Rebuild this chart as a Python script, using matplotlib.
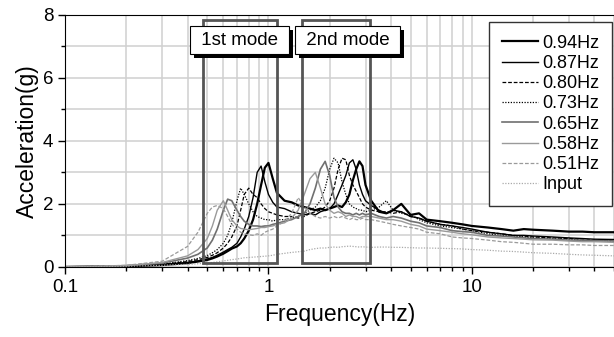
import matplotlib
matplotlib.use("Agg")
import matplotlib.pyplot as plt
from matplotlib.patches import Rectangle
from matplotlib import patheffects
from matplotlib.ticker import NullFormatter, FixedLocator, LogLocator

plt.rcParams['font.family'] = ['Liberation Sans', 'DejaVu Sans']

# frequency grid (Hz)
freq = [0.1, 0.2, 0.3, 0.4, 0.45, 0.5, 0.53, 0.56, 0.6, 0.63, 0.66, 0.7, 0.73, 0.76,
        0.8, 0.84, 0.88, 0.92, 0.96, 1.0, 1.05, 1.1, 1.2, 1.3, 1.4, 1.5, 1.6, 1.7,
        1.8, 1.9, 2.0, 2.1, 2.2, 2.3, 2.4, 2.5, 2.6, 2.7, 2.8, 2.9, 3.0, 3.2, 3.5,
        3.8, 4.1, 4.5, 5.0, 5.5, 6, 7, 8, 9, 10, 12, 14, 16, 18, 20, 25, 30, 35, 40, 50]

# acceleration (g) for each case
acc_094 = [0, 0.02, 0.06, 0.12, 0.17, 0.22, 0.27, 0.33, 0.42, 0.5, 0.58, 0.65, 0.75, 0.9,
           1.15, 1.5, 2.0, 2.6, 3.15, 3.3, 2.8, 2.35, 2.1, 2.05, 1.95, 1.9, 1.85, 1.8,
           1.85, 1.8, 1.85, 1.9, 1.95, 1.9, 2.05, 2.3, 2.75, 3.1, 3.35, 3.2, 2.6, 2.1, 1.75,
           1.7, 1.8, 2.0, 1.65, 1.7, 1.5, 1.45, 1.4, 1.35, 1.3, 1.25, 1.2, 1.15, 1.2, 1.18,
           1.15, 1.12, 1.12, 1.1, 1.1]
acc_087 = [0, 0.02, 0.07, 0.14, 0.19, 0.25, 0.3, 0.37, 0.47, 0.55, 0.62, 0.75, 0.95, 1.2,
           1.6, 2.2, 3.0, 3.2, 2.7, 2.3, 2.05, 1.9, 1.85, 1.75, 1.7, 1.65, 1.7, 1.65,
           1.75, 1.8, 1.85, 2.0, 2.3, 2.6, 2.9, 3.3, 3.4, 3.1, 2.6, 2.3, 2.1, 1.95, 1.8,
           1.7, 1.8, 1.75, 1.6, 1.55, 1.45, 1.35, 1.3, 1.25, 1.2, 1.1, 1.05, 1.0, 1.0, 0.98,
           0.95, 0.92, 0.9, 0.88, 0.87]
acc_080 = [0, 0.03, 0.08, 0.17, 0.23, 0.3, 0.37, 0.45, 0.6, 0.75, 0.95, 1.3, 1.8, 2.3,
           2.5, 2.3, 2.2, 2.0, 1.85, 1.75, 1.7, 1.65, 1.6, 1.6, 1.55, 1.6, 1.7, 1.75,
           1.8, 1.9, 2.1, 2.5, 3.1, 3.45, 3.4, 2.9, 2.6, 2.4, 2.2, 2.0, 1.9, 1.8, 1.75,
           1.75, 1.7, 1.75, 1.6, 1.55, 1.45, 1.35, 1.3, 1.2, 1.15, 1.1, 1.05, 1.0, 0.98, 0.95,
           0.92, 0.9, 0.88, 0.85, 0.85]
acc_073 = [0, 0.03, 0.09, 0.2, 0.27, 0.36, 0.45, 0.55, 0.75, 1.0, 1.4, 2.1, 2.5, 2.3,
           2.0, 1.75, 1.6, 1.55, 1.5, 1.5, 1.45, 1.5, 1.5, 1.55, 1.6, 1.7, 1.8, 1.9,
           2.1, 2.5, 3.1, 3.45, 3.3, 2.7, 2.3, 2.0, 1.9, 1.85, 1.8, 1.8, 1.75, 1.8, 1.9,
           2.1, 1.8, 1.7, 1.65, 1.5, 1.4, 1.3, 1.25, 1.2, 1.15, 1.05, 1.0, 0.98, 0.95, 0.92,
           0.9, 0.88, 0.85, 0.85, 0.82]
acc_065 = [0, 0.04, 0.12, 0.28, 0.4, 0.6, 0.85, 1.2, 1.8, 2.15, 2.1, 1.8, 1.6, 1.45,
           1.35, 1.3, 1.3, 1.28, 1.3, 1.3, 1.35, 1.38, 1.45, 1.5, 1.6, 1.7, 2.0, 2.5,
           3.1, 3.35, 2.9, 2.2, 1.9, 1.75, 1.7, 1.7, 1.65, 1.7, 1.65, 1.7, 1.65, 1.7, 1.6,
           1.55, 1.6, 1.55, 1.45, 1.4, 1.3, 1.25, 1.15, 1.12, 1.1, 1.0, 0.98, 0.95, 0.92, 0.9,
           0.88, 0.85, 0.85, 0.83, 0.82]
acc_058 = [0, 0.04, 0.14, 0.35, 0.55, 0.9, 1.3, 1.8, 2.1, 1.8, 1.5, 1.3, 1.22, 1.2,
           1.18, 1.2, 1.22, 1.25, 1.25, 1.28, 1.3, 1.35, 1.4, 1.55, 1.8, 2.3, 2.8, 3.0,
           2.5, 2.0, 1.8, 1.7, 1.75, 1.7, 1.6, 1.65, 1.6, 1.6, 1.55, 1.6, 1.6, 1.6, 1.55,
           1.5, 1.5, 1.45, 1.35, 1.3, 1.2, 1.15, 1.1, 1.05, 1.02, 0.95, 0.92, 0.9, 0.88, 0.86,
           0.85, 0.82, 0.8, 0.8, 0.78]
acc_051 = [0, 0.05, 0.18, 0.65, 1.1, 1.7, 1.9, 1.95, 1.85, 1.6, 1.35, 1.2, 1.1, 1.05,
           1.02, 1.0, 1.05, 1.0, 1.1, 1.15, 1.2, 1.3, 1.45, 1.7, 2.2, 1.9, 1.7, 1.6,
           1.55, 1.6, 1.55, 1.6, 1.55, 1.6, 1.55, 1.5, 1.55, 1.5, 1.5, 1.55, 1.5, 1.5, 1.45,
           1.4, 1.35, 1.3, 1.25, 1.2, 1.1, 1.05, 0.95, 0.92, 0.9, 0.85, 0.8, 0.78, 0.75, 0.72,
           0.72, 0.7, 0.7, 0.68, 0.68]
acc_input = [0, 0.02, 0.05, 0.08, 0.1, 0.12, 0.14, 0.16, 0.19, 0.21, 0.23, 0.25, 0.27, 0.29,
             0.3, 0.31, 0.32, 0.33, 0.34, 0.35, 0.37, 0.4, 0.43, 0.46, 0.48, 0.5, 0.55, 0.58,
             0.6, 0.6, 0.62, 0.63, 0.62, 0.64, 0.65, 0.66, 0.65, 0.64, 0.63, 0.64, 0.63, 0.62, 0.63,
             0.63, 0.62, 0.62, 0.61, 0.6, 0.6, 0.59, 0.58, 0.57, 0.55, 0.53, 0.5, 0.49, 0.47, 0.45,
             0.43, 0.4, 0.38, 0.37, 0.35]

labels = ['0.94Hz', '0.87Hz', '0.80Hz', '0.73Hz', '0.65Hz', '0.58Hz', '0.51Hz', 'Input']
series = [acc_094, acc_087, acc_080, acc_073, acc_065, acc_058, acc_051, acc_input]
styles = [
    dict(color='black', lw=1.6, ls='-'),
    dict(color='black', lw=1.0, ls='-'),
    dict(color='black', lw=0.9, ls=(0, (3, 1.5))),
    dict(color='black', lw=0.9, ls=(0, (1, 1.2))),
    dict(color='#707070', lw=1.2, ls='-'),
    dict(color='#9a9a9a', lw=1.0, ls='-'),
    dict(color='#9a9a9a', lw=0.9, ls=(0, (3, 1.5))),
    dict(color='#aaaaaa', lw=0.9, ls=(0, (1, 1.2))),
]

# mode ranges (Hz)
mode1 = (0.478, 1.1)
mode2 = (1.47, 3.14)

fig = plt.figure(figsize=(6.14, 3.37), dpi=100)
ax = fig.add_axes([0.106, 0.208, 0.894, 0.748])

for vals, lab, st in zip(series, labels, styles):
    ax.plot(freq, vals, label=lab, **st)

ax.set_xscale('log')
ax.set_xlim(0.1, 50)
ax.set_ylim(0, 8)

ax.xaxis.set_minor_locator(LogLocator(base=10, subs=range(2, 10)))
ax.xaxis.set_minor_formatter(NullFormatter())
ax.set_xticks([0.1, 1, 10])
ax.set_xticklabels(['0.1', '1', '10'])
ax.set_yticks([0, 2, 4, 6, 8])
ax.yaxis.set_minor_locator(FixedLocator([1, 3, 5, 7]))

ax.grid(True, which='both', color='#d0d0d0', lw=1.1)
ax.set_axisbelow(True)
ax.tick_params(which='major', direction='out', length=5, width=1, labelsize=13.5)
ax.tick_params(which='minor', direction='out', length=3, width=1)
ax.spines['right'].set_visible(False)

ax.set_xlabel('Frequency(Hz)', fontsize=16.5, labelpad=5)
ax.set_ylabel('Acceleration(g)', fontsize=16.5, labelpad=3)

for lo, hi in (mode1, mode2):
    ax.add_patch(Rectangle((lo, 0.12), hi - lo, 7.72, fill=False,
                           edgecolor='#555555', lw=2, zorder=3))

for txt, x in ((' 1st mode ', 0.72), (' 2nd mode ', 2.45)):
    t = ax.text(x, 7.2, txt, ha='center', va='center', fontsize=13.5, zorder=5,
                bbox=dict(boxstyle='square,pad=0.3', fc='white', ec='black', lw=0.8))
    t.get_bbox_patch().set_path_effects([
        patheffects.withSimplePatchShadow(offset=(3, -3), shadow_rgbFace='black', alpha=1)])

leg = ax.legend(loc='upper right', bbox_to_anchor=(1.0, 0.98), fontsize=13,
                frameon=True, fancybox=False, edgecolor='#333333', framealpha=1,
                handlelength=2.0, handletextpad=0.2, labelspacing=0.18,
                borderpad=0.72, borderaxespad=0.1)
leg.get_frame().set_linewidth(1.0)
leg.set_zorder(6)

fig.savefig('out.png', dpi=100)
